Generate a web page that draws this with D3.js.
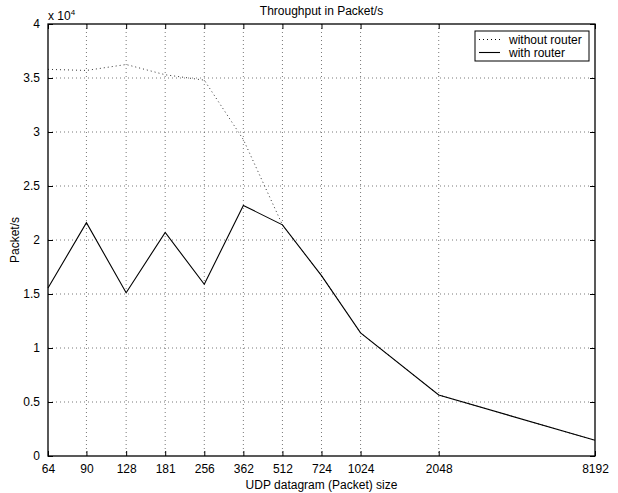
<!DOCTYPE html>
<html><head><meta charset="utf-8">
<script src="https://cdn.jsdelivr.net/npm/d3@7"></script>
<style>body{margin:0;background:#fff}svg{display:block}text{font-family:"Liberation Sans",Arial,sans-serif}</style>
</head><body><svg id="c" width="618" height="493"></svg>
<script>
const sizes = [64, 90, 128, 181, 256, 362, 512, 724, 1024, 2048, 8192];
const withoutRouter = [35800, 35700, 36250, 35300, 34800, 29300, 21400, 16700, 11400, 5650, 1450];
const withRouter = [15550, 21600, 15120, 20700, 15900, 23200, 21400, 16700, 11400, 5650, 1450];
const xTicks = [64, 90, 128, 181, 256, 362, 512, 724, 1024, 2048, 8192];
const yTicks = [0, 5000, 10000, 15000, 20000, 25000, 30000, 35000, 40000];
const seriesNames = ["without router", "with router"];

const svg = d3.select("#c");
const L = 48, R = 595, T = 24, B = 456;
const x = d3.scaleLog().base(2).domain([64, 8192]).range([L, R]);
const y = d3.scaleLinear().domain([0, 40000]).range([B, T]);

// grid
const g = svg.append("g");
g.selectAll(".gx").data(xTicks.slice(1, -1)).enter().append("line")
  .attr("x1", d => x(d)).attr("x2", d => x(d)).attr("y1", T).attr("y2", B)
  .attr("stroke", "#555").attr("stroke-width", 0.8).attr("stroke-dasharray", "1,3");
g.selectAll(".gy").data(yTicks.slice(1, -1)).enter().append("line")
  .attr("y1", d => y(d)).attr("y2", d => y(d)).attr("x1", L).attr("x2", R)
  .attr("stroke", "#555").attr("stroke-width", 0.8).attr("stroke-dasharray", "1,3");

// lines
const line = d3.line().x((d, i) => x(sizes[i])).y(d => y(d));
svg.append("path").datum(withoutRouter).attr("d", line).attr("fill", "none")
  .attr("stroke", "#333").attr("stroke-width", 1).attr("stroke-dasharray", "1,3");
svg.append("path").datum(withRouter).attr("d", line).attr("fill", "none")
  .attr("stroke", "#000").attr("stroke-width", 1.1);

// axes
const fmtY = d => String(d / 10000);
const axB = d3.axisBottom(x).tickValues(xTicks).tickFormat(d => d).tickSize(-5).tickPadding(8);
const axT = d3.axisTop(x).tickValues(xTicks).tickFormat("").tickSize(-5);
const axL = d3.axisLeft(y).tickValues(yTicks).tickFormat(fmtY).tickSize(-5).tickPadding(8);
const axR = d3.axisRight(y).tickValues(yTicks).tickFormat("").tickSize(-5);
function style(sel) {
  sel.select(".domain").remove();
  sel.selectAll("line").attr("stroke", "#000");
  sel.selectAll("text").attr("font-size", 12).attr("fill", "#000").attr("font-family", '"Liberation Sans",Arial,sans-serif');
}
svg.append("g").attr("transform", `translate(0,${B})`).call(axB).call(style);
svg.append("g").attr("transform", `translate(0,${T})`).call(axT).call(style);
svg.append("g").attr("transform", `translate(${L},0)`).call(axL).call(style);
svg.append("g").attr("transform", `translate(${R},0)`).call(axR).call(style);
svg.append("rect").attr("x", L).attr("y", T).attr("width", R - L).attr("height", B - T)
  .attr("fill", "none").attr("stroke", "#000").attr("stroke-width", 1.3);

// texts
svg.append("text").attr("x", (L + R) / 2).attr("y", 15).attr("text-anchor", "middle")
  .attr("font-size", 12).text("Throughput in Packet/s");
svg.append("text").attr("x", (L + R) / 2).attr("y", 489).attr("text-anchor", "middle")
  .attr("font-size", 12).text("UDP datagram (Packet) size");
svg.append("text").attr("transform", `translate(19,${(T + B) / 2}) rotate(-90)`).attr("text-anchor", "middle")
  .attr("font-size", 12).text("Packet/s");
const ex = svg.append("text").attr("x", 48).attr("y", 20).attr("font-size", 12);
ex.append("tspan").text("x 10");
ex.append("tspan").attr("dy", -5).attr("font-size", 8).text("4");

// legend
const lg = svg.append("g");
lg.append("rect").attr("x", 475).attr("y", 31).attr("width", 114).attr("height", 30)
  .attr("fill", "#fff").attr("stroke", "#000").attr("stroke-width", 1);
seriesNames.forEach((n, i) => {
  const yy = 39.5 + i * 13;
  lg.append("line").attr("x1", 479).attr("x2", 500).attr("y1", yy).attr("y2", yy)
    .attr("stroke", "#000").attr("stroke-width", i ? 1.1 : 1).attr("stroke-dasharray", i ? null : "1,3");
  lg.append("text").attr("x", 509).attr("y", yy + 4).attr("font-size", 12).text(n);
});
</script></body></html>
